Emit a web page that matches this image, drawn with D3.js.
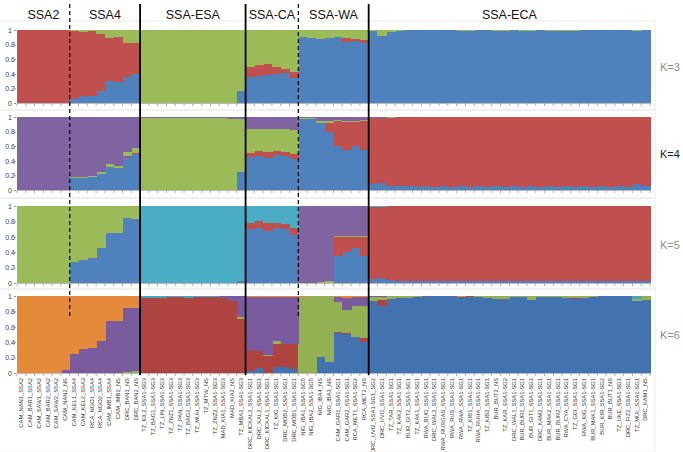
<!DOCTYPE html>
<html><head><meta charset="utf-8">
<script src="https://cdn.jsdelivr.net/npm/d3@7"></script>
<style>body{margin:0;background:#fff}svg{display:block}</style>
</head><body><svg id="c" width="683" height="452"></svg>
<script>
const samples = ["CAM_NAN1_SSA2","CAM_BAR1_SSA2","CAM_SAW1_SSA2","CAM_BAR2_SSA2","CAM_SAW2_SSA2","CAM_NAN2_NS",
"CAM_KEL1_SSA4","CAM_KEL2_SSA3","RCA_NGO1_SSA4","RCA_NGO2_SSA4","CAM_IMB1_SSA4","CAM_IMB2_NS","DRC_BAN1_NS","DRC_BAN2_NS",
"TZ_KIL2_SSA1-SG3","TZ_BAG1_SSA1-SG3","TZ_LIN_SSA1-SG3","TZ_ZNZ1_SSA1-SG3","TZ_PAN_SSA1-SG3","TZ_BAG2_SSA1-SG3","TZ_MUH_SSA1-SG3","TZ_MTW_NS","TZ_ZNZ2_SSA1-SG3","MAD_KIA1_SSA1-SG3","MAD_KIA2_NS","TZ_MBA2_SSA1-SG3",
"DRC_KICKAL2_SSA1-SG1","DRC_KAL2_SSA1-SG1","DRC_KICKAL1_SSA1-SG1","TZ_KIG_SSA1-SG1","DRC_MOB2_SSA1-SG1","DRC_MOB1_SSA1-SG1",
"NIG_IBA1_SSA1-SG5","NIG_IBA2_SSA1-SG5","NIG_IBA4_NS","NIG_IBA3_NS","CAM_GAR1_SSA1-SG1","CAM_GAR2_SSA1-SG1","RCA_MET1_SSA1-SG2","RCA_MET2_NS",
"DRC_UVI2_SSA1-SG1_SG2","DRC_UVI1_SSA1-SG1","TZ_TAR_SSA1-SG1","TZ_KAK2_SSA1-SG1","BUR_GIT2_SSA1-SG1","TZ_KAK1_SSA1-SG1","RWA_BUG_SSA1-SG1","DRC_WAL2_SSA1-SG1","RWA_RUSGAS_SSA1-SG1","RWA_RUS_SSA1-SG1","RWA_RWA_SSA1-SG1","TZ_KIB1_SSA1-SG1","RWA_RUHA_SSA1-SG1","TZ_KIB2_SSA1-SG1","BUR_BUT2_NS","TZ_KAR_SSA1-SG2","DRC_WAL1_SSA1-SG1","BUR_BUR1_SSA1-SG1","BUR_GIT1_SSA1-SG1","DRC_KAM2_SSA1-SG1","BUR_MAK2_SSA1-SG1","BUR_BUR2_SSA1-SG1","RWA_CYA_SSA1-SG1","TZ_GEI_SSA1-SG1","RWA_KIG_SSA1-SG1","BUR_MAK1_SSA1-SG1","BUR_KIR_SSA1-SG2","BUR_BUT1_NS","TZ_UKE_SSA1-SG1","DRC_FIZ2_SSA1-SG1","TZ_MUL_SSA1-SG1","DRC_KAM1_NS"];

const groupNames = ["SSA2","SSA4","SSA-ESA","SSA-CA","SSA-WA","SSA-ECA"];
const groupSizes = [6,8,12,6,8,32];
const dividerStyles = ["dashed","solid","solid","dashed","solid"];
const kLabels = ["K=3","K=4","K=5","K=6"];
const kLabelColors = ["#8c8c8c","#1a1a1a","#8c8c8c","#8c8c8c"];
const yTicks = [0,0.2,0.4,0.6,0.8,1];
const yTickLabels = ["0","0.2","0.4","0.6","0.8","1"];

// cluster colours (bottom -> top of stack)
const k3Colors = ["#4F81BD","#C0504D","#9BBB59"];
const k4Colors = ["#4F81BD","#C0504D","#9BBB59","#8064A2"];
const k5Colors = ["#4F81BD","#C0504D","#9BBB59","#8064A2","#4BACC6"];
const k6Colors = ["#4372B0","#AE433F","#93B152","#7A5C9E","#E5893B","#45A6C1"];

// K=3 : blue, red, green
const k3Rows = [
[0,1,0],[0,1,0],[0,1,0],[0,1,0],[0,1,0],[0,1,0],
[0.06,0.93,0.01],[0.09,0.88,0.03],[0.10,0.89,0.01],[0.17,0.78,0.05],[0.30,0.59,0.11],[0.29,0.61,0.10],[0.36,0.46,0.18],[0.40,0.42,0.18],
[0,0,1],[0,0,1],[0,0,1],[0,0,1],[0,0,1],[0,0,1],[0,0,1],[0,0,1],[0,0,1],[0,0,1],[0,0,1],[0.16,0,0.84],
[0.36,0.13,0.51],[0.37,0.15,0.48],[0.38,0.16,0.46],[0.40,0.09,0.51],[0.41,0.06,0.53],[0.34,0.09,0.57],
[0.90,0,0.10],[0.89,0,0.11],[0.87,0,0.13],[0.89,0,0.11],[0.90,0,0.10],[0.84,0.05,0.11],[0.85,0.03,0.12],[0.82,0.04,0.14],
[0.98,0,0.02],[0.92,0,0.08],[0.97,0,0.03],[0.99,0,0.01],[0.995,0,0.005],[0.995,0,0.005],[0.995,0,0.005],[0.995,0,0.005],[0.995,0,0.005],[0.995,0,0.005],
[0.985,0,0.015],[0.985,0,0.015],[0.995,0,0.005],[0.995,0,0.005],[0.985,0,0.015],[0.985,0,0.015],[0.995,0,0.005],[0.99,0,0.01],[0.99,0,0.01],[0.995,0,0.005],
[0.99,0,0.01],[0.99,0,0.01],[0.99,0,0.01],[0.99,0,0.01],[0.995,0,0.005],[0.995,0,0.005],[0.995,0,0.005],[0.995,0,0.005],[0.995,0,0.005],[0.995,0,0.005],[0.985,0,0.015],[0.995,0,0.005]
];

// K=4 : blue, red, green, purple
const k4Rows = [
[0,0,0,1],[0,0,0,1],[0,0,0,1],[0,0,0,1],[0,0,0,1],[0,0,0,1],
[0.17,0,0.01,0.82],[0.17,0,0.01,0.82],[0.18,0,0.01,0.81],[0.22,0,0.02,0.76],[0.32,0,0.03,0.65],[0.30,0,0.03,0.67],[0.45,0.01,0.06,0.48],[0.50,0.01,0.06,0.43],
[0,0,0.98,0.02],[0,0,0.98,0.02],[0,0,0.98,0.02],[0,0,0.99,0.01],[0,0,0.99,0.01],[0,0,0.98,0.02],[0,0,0.99,0.01],[0,0,0.99,0.01],[0,0,0.98,0.02],[0,0,0.98,0.02],[0,0,0.97,0.03],[0.25,0,0.72,0.03],
[0.45,0.06,0.33,0.16],[0.47,0.07,0.30,0.16],[0.44,0.08,0.32,0.16],[0.48,0.06,0.30,0.16],[0.46,0.06,0.32,0.16],[0.42,0.07,0.33,0.18],
[0.97,0,0.02,0.01],[0.97,0,0.02,0.01],[0.92,0,0.02,0.06],[0.80,0.12,0.02,0.06],[0.60,0.35,0.01,0.04],[0.55,0.38,0.01,0.06],[0.60,0.33,0.01,0.06],[0.55,0.40,0.01,0.04],
[0.08,0.90,0.01,0.01],[0.10,0.88,0.01,0.01],[0.06,0.93,0.01,0],[0.05,0.95,0,0],[0.05,0.95,0,0],[0.04,0.96,0,0],[0.05,0.95,0,0],[0.04,0.96,0,0],[0.05,0.95,0,0],[0.04,0.96,0,0],
[0.05,0.95,0,0],[0.04,0.96,0,0],[0.05,0.95,0,0],[0.04,0.96,0,0],[0.05,0.95,0,0],[0.04,0.96,0,0],[0.05,0.95,0,0],[0.04,0.96,0,0],[0.05,0.95,0,0],[0.04,0.96,0,0],
[0.05,0.95,0,0],[0.04,0.96,0,0],[0.05,0.95,0,0],[0.04,0.96,0,0],[0.05,0.95,0,0],[0.04,0.96,0,0],[0.05,0.95,0,0],[0.04,0.96,0,0],[0.05,0.95,0,0],[0.04,0.96,0,0],[0.08,0.92,0,0],[0.05,0.95,0,0]
];

// K=5 : blue, red, green, purple, cyan
const k5Rows = [
[0,0,1,0,0],[0,0,1,0,0],[0,0,1,0,0],[0,0,1,0,0],[0,0,1,0,0],[0,0,1,0,0],
[0.27,0,0.73,0,0],[0.30,0,0.70,0,0],[0.32,0,0.68,0,0],[0.45,0,0.55,0,0],[0.65,0,0.35,0,0],[0.65,0,0.35,0,0],[0.85,0,0.15,0,0],[0.83,0,0.17,0,0],
[0,0,0,0,1],[0,0,0,0,1],[0,0,0,0,1],[0,0,0,0,1],[0,0,0,0,1],[0,0,0,0,1],[0,0,0,0,1],[0,0,0,0,1],[0,0,0,0,1],[0,0,0,0,1],[0,0,0,0,1],[0.03,0,0,0,0.97],
[0.70,0.08,0,0,0.22],[0.72,0.08,0,0,0.20],[0.68,0.10,0,0,0.22],[0.72,0.06,0,0,0.22],[0.70,0.06,0,0,0.24],[0.62,0.10,0,0,0.28],
[0,0,0,1,0],[0,0,0,1,0],[0,0,0.01,0.99,0],[0,0,0.02,0.98,0],[0.35,0.25,0.01,0.39,0],[0.40,0.20,0.01,0.39,0],[0.45,0.15,0.01,0.39,0],[0.35,0.25,0.01,0.39,0],
[0.05,0.94,0,0,0.01],[0.06,0.93,0,0,0.01],[0.04,0.96,0,0,0],[0.03,0.97,0,0,0],[0.02,0.98,0,0,0],[0.02,0.98,0,0,0],[0.02,0.98,0,0,0],[0.02,0.98,0,0,0],[0.02,0.98,0,0,0],[0.02,0.98,0,0,0],
[0.02,0.98,0,0,0],[0.02,0.98,0,0,0],[0.02,0.98,0,0,0],[0.02,0.98,0,0,0],[0.02,0.98,0,0,0],[0.02,0.98,0,0,0],[0.02,0.98,0,0,0],[0.02,0.98,0,0,0],[0.02,0.98,0,0,0],[0.02,0.98,0,0,0],
[0.02,0.98,0,0,0],[0.02,0.98,0,0,0],[0.02,0.98,0,0,0],[0.02,0.98,0,0,0],[0.02,0.98,0,0,0],[0.02,0.98,0,0,0],[0.02,0.98,0,0,0],[0.02,0.98,0,0,0],[0.02,0.98,0,0,0],[0.02,0.98,0,0,0],[0.03,0.97,0,0,0],[0.02,0.98,0,0,0]
];

// K=6 : blue, red, green, purple, orange, cyan
const k6Rows = [
[0,0,0,0,1,0],[0,0,0,0,1,0],[0,0,0,0,1,0],[0,0,0,0,1,0],[0,0,0,0,1,0],[0,0,0,0.04,0.96,0],
[0,0,0,0.25,0.75,0],[0,0,0,0.31,0.69,0],[0,0,0,0.32,0.68,0],[0,0,0,0.41,0.59,0],[0,0,0,0.67,0.33,0],[0,0,0,0.67,0.33,0],[0,0,0.01,0.84,0.15,0],[0,0,0.03,0.81,0.16,0],
[0,0.98,0,0,0,0.02],[0,0.98,0,0,0,0.02],[0,0.97,0,0,0,0.03],[0,0.99,0,0,0,0.01],[0,0.99,0,0,0,0.01],[0,0.97,0,0,0,0.03],[0,0.99,0,0,0,0.01],[0,0.99,0,0,0,0.01],[0,0.99,0,0,0,0.01],[0,0.98,0,0.02,0,0],[0,0.94,0,0.06,0,0],[0,0.70,0.03,0.27,0,0],
[0.03,0.27,0,0.69,0.01,0],[0.06,0.22,0,0.71,0.01,0],[0,0.22,0.02,0.75,0.01,0],[0.08,0.30,0.03,0.58,0.01,0],[0.08,0.30,0,0.61,0.01,0],[0.05,0.33,0,0.61,0.01,0],
[0,0,0.99,0,0.01,0],[0,0,1,0,0,0],[0.21,0,0.79,0,0,0],[0.14,0,0.86,0,0,0],[0.52,0.01,0.39,0.07,0.01,0],[0.51,0.01,0.30,0.16,0.02,0],[0.47,0,0.40,0.12,0.01,0],[0.40,0.06,0.41,0.12,0.01,0],
[0.94,0,0.05,0.01,0,0],[0.875,0.075,0.04,0.01,0,0],[0.96,0,0.04,0,0,0],[0.97,0,0.03,0,0,0],[0.98,0,0.02,0,0,0],[0.985,0,0.015,0,0,0],[0.995,0,0.005,0,0,0],[0.995,0,0.005,0,0,0],[0.995,0,0.005,0,0,0],[0.995,0,0.005,0,0,0],
[0.98,0.01,0.01,0,0,0],[0.985,0.01,0.005,0,0,0],[0.99,0,0.01,0,0,0],[0.98,0,0.02,0,0,0],[0.96,0,0.04,0,0,0],[0.96,0,0.04,0,0,0],[0.985,0,0.015,0,0,0],[0.99,0,0.01,0,0,0],[0.95,0,0.05,0,0,0],[0.99,0,0.01,0,0,0],
[0.985,0,0.015,0,0,0],[0.985,0,0.015,0,0,0],[0.97,0,0.03,0,0,0],[0.96,0.01,0.03,0,0,0],[0.97,0,0.03,0,0,0],[0.985,0,0.015,0,0,0],[0.995,0,0.005,0,0,0],[0.995,0,0.005,0,0,0],[0.995,0,0.005,0,0,0],[0.995,0,0.005,0,0,0],[0.93,0,0.03,0,0,0.04],[0.95,0,0.05,0,0,0]
];

const panels = [
  {rows:k3Rows, colors:k3Colors, top:30, bottom:103, label:kLabels[0], lc:kLabelColors[0], frame:[21,110]},
  {rows:k4Rows, colors:k4Colors, top:117, bottom:190, label:kLabels[1], lc:kLabelColors[1], frame:[110,198]},
  {rows:k5Rows, colors:k5Colors, top:206, bottom:283, label:kLabels[2], lc:kLabelColors[2], frame:[198,289]},
  {rows:k6Rows, colors:k6Colors, top:296, bottom:373, label:kLabels[3], lc:kLabelColors[3], frame:[289,452]}
];

const svg = d3.select("#c");
const font = "'Liberation Sans', Arial, sans-serif";
const x = d3.scaleBand().domain(samples).range([17, 650]).padding(0);

panels.forEach((p, pi) => {
  const y = d3.scaleLinear().domain([0,1]).range([p.bottom, p.top]);
  const keys = p.colors.map((c,i)=>i);
  const table = samples.map((s,i)=>{ const o={name:s}; p.rows[i].forEach((v,j)=>o[j]=v); return o; });
  const stacked = d3.stack().keys(keys)(table);
  const g = svg.append("g");
  g.append("rect").attr("x",-1).attr("y",p.frame[0]).attr("width",656).attr("height",p.frame[1]-p.frame[0])
    .attr("fill","none").attr("stroke","#ececec").attr("stroke-width",1);
  stacked.forEach((layer,li)=>{
    g.append("g").attr("fill",p.colors[li]).attr("shape-rendering","crispEdges")
      .selectAll("rect").data(layer).join("rect")
      .attr("x",d=>x(d.data.name))
      .attr("width",x.bandwidth()+0.6)
      .attr("y",d=>y(d[1]))
      .attr("height",d=>Math.max(0,y(d[0])-y(d[1])));
  });
  const ya = d3.axisLeft(y).tickValues(yTicks).tickFormat((d,i)=>yTickLabels[i]).tickSize(2).tickPadding(2);
  const yg = g.append("g").attr("transform",`translate(16,0)`).call(ya);
  yg.select(".domain").remove();
  yg.selectAll("line").attr("stroke","#999");
  yg.selectAll("text").attr("font-size",7).attr("font-family",font).attr("fill","#404040").attr("text-anchor","middle").attr("dx",-2);
  const xa = d3.axisBottom(x).tickSize(0).tickFormat(pi===3 ? (d=>d) : "");
  const xg = g.append("g").attr("transform",`translate(0,${p.bottom})`).call(xa);
  xg.select(".domain").attr("stroke","#bbb");
  xg.selectAll(".bnd").data(d3.range(samples.length+1)).join("line")
    .attr("x1",i=>17+i*x.step()).attr("x2",i=>17+i*x.step()).attr("y1",0).attr("y2",3).attr("stroke","#aaa");
  if (pi===3) {
    xg.selectAll(".tick text").attr("font-size",5.8).attr("font-family",font).attr("fill","#333")
      .attr("transform","rotate(-90)").attr("text-anchor","end").attr("x",-5).attr("y",0).attr("dy","0.32em");
  }
  svg.append("text").attr("x",660).attr("y",(p.top+p.bottom)/2+4).attr("font-family",font)
    .attr("font-size",11).attr("fill",p.lc).text(p.label);
});

let acc = 0;
groupSizes.forEach((n,i)=>{
  const x0 = 17 + acc*x.step();
  const x1 = 17 + (acc+n)*x.step();
  svg.append("text").attr("x",(x0+x1)/2).attr("y",19).attr("text-anchor","middle")
    .attr("font-family",font).attr("font-size",12.5).attr("fill","#111").text(groupNames[i]);
  acc += n;
  if (i < dividerStyles.length) {
    const dashed = dividerStyles[i]==="dashed";
    svg.append("line").attr("x1",x1).attr("x2",x1).attr("y1",4).attr("y2",dashed?318:375)
      .attr("stroke","#000").attr("stroke-width",dashed?1.2:1.8)
      .attr("stroke-dasharray",dashed?"4,3":null);
  }
});
</script></body></html>
